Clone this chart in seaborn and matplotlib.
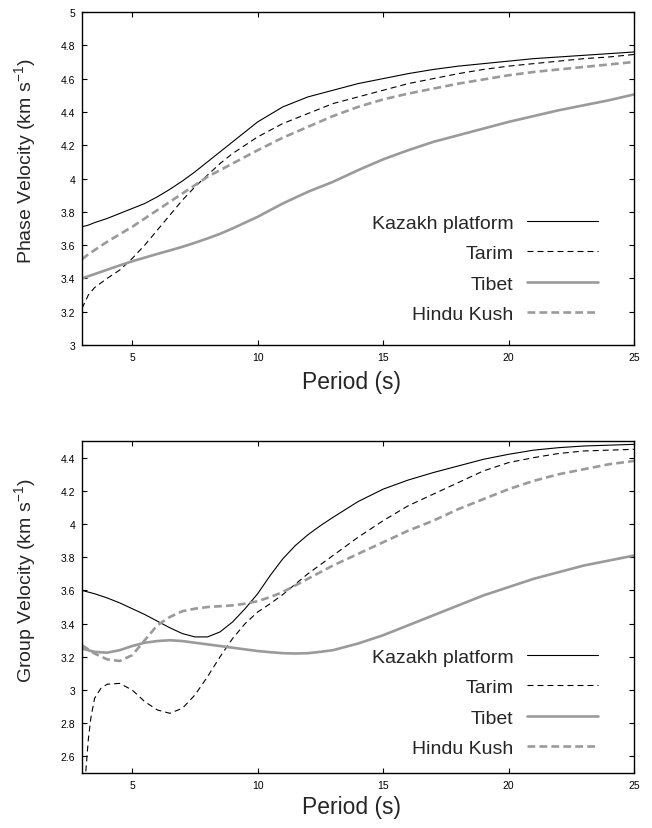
import matplotlib
matplotlib.use("Agg")
import matplotlib.pyplot as plt
import numpy as np
import pandas as pd
import seaborn as sns
from matplotlib.ticker import FuncFormatter, MultipleLocator

# ---------------- phase velocity (km/s) ----------------
period_phase = [3, 3.25, 3.5, 4, 4.5, 5, 5.5, 6, 6.5, 7, 7.5, 8, 8.5, 9, 9.5,
                10, 11, 12, 13, 14, 15, 16, 17, 18, 19, 20, 21, 22, 23, 24, 25]
kazakh_phase = [3.71, 3.72, 3.735, 3.76, 3.79, 3.82, 3.85, 3.89, 3.935, 3.985,
                4.04, 4.10, 4.16, 4.22, 4.28, 4.34, 4.43, 4.49, 4.53, 4.57,
                4.60, 4.63, 4.655, 4.675, 4.69, 4.705, 4.72, 4.73, 4.74, 4.75, 4.76]
tarim_phase = [3.22, 3.30, 3.345, 3.40, 3.45, 3.52, 3.60, 3.69, 3.78, 3.87,
               3.95, 4.02, 4.09, 4.15, 4.20, 4.25, 4.33, 4.39, 4.45, 4.49,
               4.53, 4.57, 4.60, 4.63, 4.655, 4.675, 4.69, 4.705, 4.72, 4.73, 4.745]
tibet_phase = [3.40, 3.413, 3.426, 3.452, 3.478, 3.503, 3.525, 3.547, 3.568, 3.59,
               3.614, 3.64, 3.668, 3.70, 3.735, 3.77, 3.85, 3.92, 3.98, 4.05,
               4.115, 4.17, 4.22, 4.26, 4.30, 4.34, 4.375, 4.41, 4.44, 4.47, 4.505]
hindukush_phase = [3.515, 3.545, 3.57, 3.62, 3.665, 3.71, 3.76, 3.81, 3.86, 3.91,
                   3.96, 4.01, 4.05, 4.09, 4.13, 4.17, 4.245, 4.31, 4.375, 4.43,
                   4.475, 4.51, 4.54, 4.57, 4.595, 4.62, 4.64, 4.655, 4.67, 4.685, 4.70]

# ---------------- group velocity (km/s) ----------------
period_group = [3, 3.5, 4, 4.5, 5, 5.5, 6, 6.5, 7, 7.5, 8, 8.5, 9, 9.5, 10,
                10.5, 11, 11.5, 12, 12.5, 13, 14, 15, 16, 17, 18, 19, 20, 21,
                22, 23, 24, 25]
kazakh_group = [3.60, 3.58, 3.555, 3.525, 3.49, 3.455, 3.415, 3.375, 3.34,
                3.32, 3.32, 3.35, 3.41, 3.49, 3.58, 3.69, 3.79, 3.87, 3.935,
                3.99, 4.04, 4.135, 4.21, 4.265, 4.31, 4.35, 4.39, 4.42, 4.445,
                4.46, 4.47, 4.475, 4.48]
tibet_group = [3.25, 3.23, 3.225, 3.24, 3.265, 3.285, 3.295, 3.30, 3.295,
               3.285, 3.275, 3.265, 3.255, 3.245, 3.235, 3.228, 3.222, 3.22,
               3.222, 3.23, 3.24, 3.28, 3.33, 3.39, 3.45, 3.51, 3.57, 3.62,
               3.67, 3.71, 3.75, 3.78, 3.81]
hindukush_group = [3.27, 3.22, 3.185, 3.175, 3.21, 3.30, 3.39, 3.44, 3.475,
                   3.49, 3.50, 3.505, 3.51, 3.52, 3.535, 3.56, 3.59, 3.63, 3.67,
                   3.71, 3.75, 3.82, 3.89, 3.96, 4.02, 4.09, 4.15, 4.21, 4.26,
                   4.30, 4.33, 4.36, 4.38]
period_tarim_group = [3.12, 3.25, 3.35, 3.5, 3.75, 4, 4.5, 5, 5.5, 6, 6.5, 7,
                      7.5, 8, 8.5, 9, 9.5, 10, 10.5, 11, 12, 13, 14, 15, 16,
                      17, 18, 19, 20, 21, 22, 23, 24, 25]
tarim_group = [2.45, 2.70, 2.83, 2.95, 3.01, 3.035, 3.04, 3.00, 2.93, 2.88,
               2.86, 2.89, 2.97, 3.08, 3.20, 3.31, 3.40, 3.47, 3.52, 3.575,
               3.70, 3.81, 3.92, 4.02, 4.11, 4.18, 4.25, 4.32, 4.37, 4.40,
               4.425, 4.44, 4.445, 4.45]

regions = ["Kazakh platform", "Tarim", "Tibet", "Hindu Kush"]
x_ticks = [5, 10, 15, 20, 25]

sns.set_style("ticks")
plt.rcParams["font.family"] = ["Liberation Sans", "DejaVu Sans"]
plt.rcParams["mathtext.default"] = "regular"
plt.rcParams["lines.scale_dashes"] = False

GREY = "#9a9a9a"
line_styles = {
    "Kazakh platform": dict(color="black", linewidth=0.8, linestyle="-"),
    "Tarim": dict(color="black", linewidth=0.8, linestyle=(0, (4.3, 2.9))),
    "Tibet": dict(color=GREY, linewidth=1.9, linestyle="-"),
    "Hindu Kush": dict(color=GREY, linewidth=1.9, linestyle=(0, (5.6, 3.0))),
}

fig = plt.figure(figsize=(6.52, 8.29), dpi=100)
ax_top = fig.add_axes([0.1258, 0.5826, 0.8466, 0.4017])
ax_bot = fig.add_axes([0.1258, 0.0663, 0.8466, 0.4005])

top_series = {
    "Kazakh platform": (period_phase, kazakh_phase),
    "Tarim": (period_phase, tarim_phase),
    "Tibet": (period_phase, tibet_phase),
    "Hindu Kush": (period_phase, hindukush_phase),
}
bot_series = {
    "Kazakh platform": (period_group, kazakh_group),
    "Tarim": (period_tarim_group, tarim_group),
    "Tibet": (period_group, tibet_group),
    "Hindu Kush": (period_group, hindukush_group),
}

fmt = FuncFormatter(lambda v, p: f"{round(v, 6):g}")


def draw_panel(ax, series, ylim, ylabel, ylabel_y, xlabel_pad, legend_y):
    for name in regions:
        px, vy = series[name]
        df = pd.DataFrame({"period": px, "velocity": vy})
        sns.lineplot(data=df, x="period", y="velocity", ax=ax, sort=False,
                     estimator=None, label=name, legend=False,
                     **line_styles[name])
    ax.set_xlim(3, 25)
    ax.set_ylim(*ylim)
    ax.set_xticks(x_ticks)
    ax.yaxis.set_major_locator(MultipleLocator(0.2))
    ax.yaxis.set_major_formatter(fmt)
    ax.xaxis.set_major_formatter(fmt)
    ax.tick_params(direction="in", length=3.4, width=0.8, top=True,
                   right=True, labelsize=7.5, pad=5, colors="black")
    for sp in ax.spines.values():
        sp.set_linewidth(1.0)
        sp.set_color("black")
    ax.set_xlabel("Period (s)", fontsize=16.5, labelpad=xlabel_pad)
    ax.xaxis.label.set_x(0.489)
    ax.set_ylabel(ylabel, fontsize=14)
    ax.yaxis.set_label_coords(-0.08, ylabel_y)
    handles, labels = ax.get_legend_handles_labels()
    ax.legend(handles, labels, loc="lower right",
              bbox_to_anchor=(0.935, legend_y), frameon=False,
              markerfirst=False, fontsize=14, handlelength=3.65,
              handletextpad=0.72, labelspacing=0.66, borderpad=0,
              borderaxespad=0)


draw_panel(ax_top, top_series, (3, 5), "Phase Velocity (km s$^{-1}$)",
           0.556, 6, 0.066)
draw_panel(ax_bot, bot_series, (2.5, 4.5), "Group Velocity (km s$^{-1}$)",
           0.581, 3.5, 0.048)

fig.savefig("out.png", dpi=100)
